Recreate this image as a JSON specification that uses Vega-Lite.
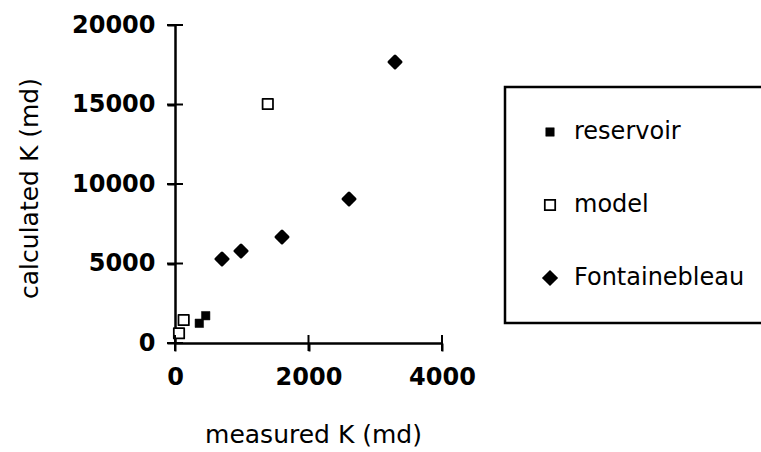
{
  "$schema": "https://vega.github.io/schema/vega-lite/v6.json",
  "width": 267,
  "height": 318,
  "autosize": "none",
  "padding": {"left": 175, "top": 25, "right": 319, "bottom": 109},
  "background": "white",
  "config": {
    "view": {"stroke": null},
    "font": "DejaVu Sans",
    "axis": {
      "grid": false,
      "domainColor": "black",
      "domainWidth": 2.5,
      "tickColor": "black",
      "tickWidth": 2,
      "tickSize": 8,
      "labelColor": "black",
      "labelFont": "DejaVu Sans",
      "labelFontSize": 24,
      "labelFontWeight": "bold",
      "labelFlush": false,
      "titleColor": "black",
      "titleFont": "DejaVu Sans",
      "titleFontSize": 25,
      "titleFontWeight": "normal",
      "format": "d"
    },
    "legend": {
      "strokeColor": "black",
      "strokeWidth": 2.5,
      "padding": 33,
      "fillColor": "white",
      "labelFont": "DejaVu Sans",
      "labelFontSize": 24,
      "labelColor": "black",
      "labelOffset": 12,
      "labelLimit": 400,
      "rowPadding": 49,
      "symbolStrokeColor": "black"
    }
  },
  "layer": [
    {
      "data": {"values": [
        {"measured": 460, "calculated": 1717, "type": "reservoir"},
        {"measured": 364, "calculated": 1240, "type": "reservoir"},
        {"measured": 60, "calculated": 610, "type": "model"},
        {"measured": 130, "calculated": 1446, "type": "model"},
        {"measured": 1390, "calculated": 15030, "type": "model"},
        {"measured": 704, "calculated": 5283, "type": "Fontainebleau"},
        {"measured": 989, "calculated": 5786, "type": "Fontainebleau"},
        {"measured": 1603, "calculated": 6667, "type": "Fontainebleau"},
        {"measured": 2607, "calculated": 9057, "type": "Fontainebleau"},
        {"measured": 3296, "calculated": 17673, "type": "Fontainebleau"}
      ]},
      "mark": {"type": "point", "filled": true, "opacity": 1, "strokeJoin": "round"},
      "encoding": {
        "x": {"field": "measured", "type": "quantitative",
          "scale": {"domain": [0, 4000], "nice": false},
          "axis": {"orient": "bottom", "values": [0, 2000, 4000], "title": "measured K (md)",
            "labelPadding": 14, "titleX": 138, "titleY": 99, "titleBaseline": "alphabetic", "titleAlign": "center"}},
        "y": {"field": "calculated", "type": "quantitative",
          "scale": {"domain": [0, 20000], "nice": false},
          "axis": {"orient": "left", "values": [0, 5000, 10000, 15000, 20000], "title": "calculated K (md)",
            "labelPadding": 12, "titleX": -146, "titleY": 163, "titleAngle": -90, "titleBaseline": "middle", "titleAlign": "center"}},
        "shape": {"field": "type", "type": "nominal",
          "scale": {"domain": ["reservoir", "model", "Fontainebleau"], "range": ["square", "square", "diamond"]},
          "legend": {"title": null, "orient": "none", "legendX": 330, "legendY": 62}},
        "fill": {"field": "type", "type": "nominal",
          "scale": {"domain": ["reservoir", "model", "Fontainebleau"], "range": ["black", "white", "black"]},
          "legend": {"title": null, "orient": "none", "legendX": 330, "legendY": 62}},
        "stroke": {"field": "type", "type": "nominal",
          "scale": {"domain": ["reservoir", "model", "Fontainebleau"], "range": ["black", "black", "black"]},
          "legend": {"title": null, "orient": "none", "legendX": 330, "legendY": 62}},
        "strokeWidth": {"field": "type", "type": "nominal",
          "scale": {"domain": ["reservoir", "model", "Fontainebleau"], "range": [0.5, 3, 0.5]},
          "legend": {"title": null, "orient": "none", "legendX": 330, "legendY": 62}},
        "size": {"field": "type", "type": "nominal",
          "scale": {"domain": ["reservoir", "model", "Fontainebleau"], "range": [72, 144, 64]},
          "legend": {"title": null, "orient": "none", "legendX": 330, "legendY": 62}}
      }
    },
    {
      "data": {"values": [{"v": 0}, {"v": 5000}, {"v": 10000}, {"v": 15000}, {"v": 20000}]},
      "mark": {"type": "tick", "orient": "horizontal", "size": 16, "thickness": 2, "color": "black", "opacity": 1},
      "encoding": {
        "y": {"field": "v", "type": "quantitative"},
        "x": {"datum": 0}
      }
    },
    {
      "data": {"values": [{"v": 0}, {"v": 2000}, {"v": 4000}]},
      "mark": {"type": "tick", "orient": "vertical", "size": 16, "thickness": 2, "color": "black", "opacity": 1},
      "encoding": {
        "x": {"field": "v", "type": "quantitative"},
        "y": {"datum": 0}
      }
    }
  ]
}
